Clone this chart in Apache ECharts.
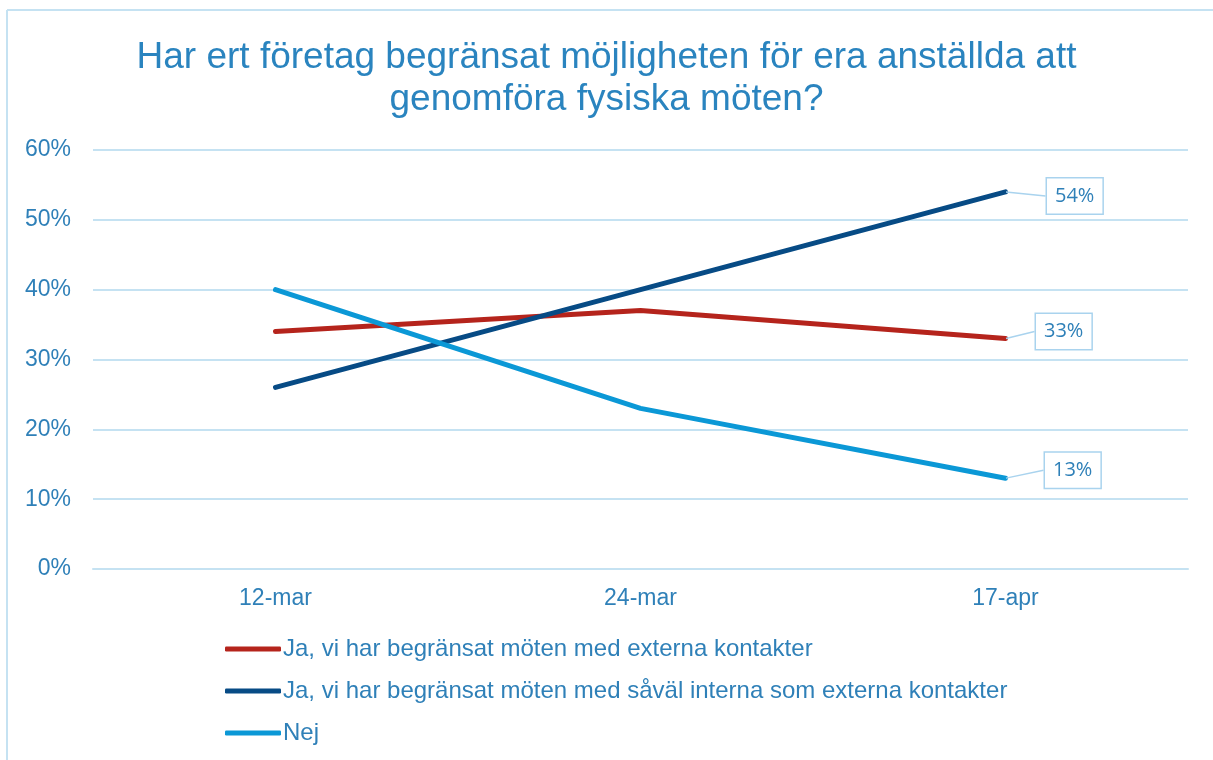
<!DOCTYPE html>
<html><head><meta charset="utf-8">
<script src="https://cdn.jsdelivr.net/npm/echarts@6/dist/echarts.min.js"></script>
<style>html,body{margin:0;padding:0;background:#fff}#c{width:1213px;height:760px}</style>
</head><body><div id="c"></div>
<script>
const categories = ['12-mar', '24-mar', '17-apr'];
const seriesNames = [
  'Ja, vi har begränsat möten med externa kontakter',
  'Ja, vi har begränsat möten med såväl interna som externa kontakter',
  'Nej'
];
const externa = [34, 37, 33];
const bada = [26, 40, 54];
const nej = [40, 23, 13];
const yTicks = [0, 10, 20, 30, 40, 50, 60];
const colors = ['#B5241C', '#074B85', '#0B98D6'];
const textColor = '#2F80B8';

const chart = echarts.init(document.getElementById('c'));
function mk(name, values, color, dx, dy) {
  const last = values.length - 1;
  const data = values.map((v, i) => i === last ? { value: v, label: { show: true }, labelLine: { show: true } } : v);
  return {
    name, type: 'line', data, symbol: 'circle', symbolSize: 1, showSymbol: true,
    lineStyle: { color, width: 5, cap: 'round', join: 'round' },
    itemStyle: { color },
    label: {
      show: false,
      formatter: p => p.value + '%',
      position: 'right', distance: 0,
      fontFamily: 'Open Sans', fontSize: 20, color: textColor,
      backgroundColor: '#fff', borderColor: '#A9D3EE', borderWidth: 1.5,
      padding: [8, 8, 7, 8]
    },
    labelLayout: p => p.dataIndex === last ? { dx, dy } : {},
    labelLine: { show: false, lineStyle: { color: '#A9D3EE', width: 1.5 } },
    emphasis: { disabled: true }
  };
}
chart.setOption({
  animation: false,
  title: {
    text: 'Har ert företag begränsat möjligheten för era anställda att\ngenomföra fysiska möten?',
    left: 'center', top: 32,
    textStyle: { fontFamily: 'Liberation Sans', fontSize: 37, fontWeight: 'normal', color: '#2A84BF', lineHeight: 42 }
  },
  grid: { left: 93, right: 25, top: 150, bottom: 191, containLabel: false },
  xAxis: {
    type: 'category', data: categories, boundaryGap: true,
    axisLine: { lineStyle: { color: '#C5E2F2', width: 2 } },
    axisTick: { show: false },
    axisLabel: { fontFamily: 'Liberation Sans', fontSize: 23, color: textColor, margin: 18 }
  },
  yAxis: {
    type: 'value', min: 0, max: 60, interval: 10,
    axisLine: { show: false }, axisTick: { show: false },
    axisLabel: { fontFamily: 'Liberation Sans', fontSize: 23, color: textColor, formatter: v => yTicks.includes(v) ? v + '%' : '', margin: 22 },
    splitLine: { lineStyle: { color: '#C5E2F2', width: 2 } }
  },
  legend: {
    orient: 'vertical', left: 220, top: 632, itemGap: 18,
    itemWidth: 56, itemHeight: 5, icon: 'roundRect',
    textStyle: { fontFamily: 'Liberation Sans', fontSize: 24, color: textColor, padding: [0, 0, 0, -3] },
    data: seriesNames
  },
  graphic: [
    { type: 'line', shape: { x1: 7, y1: 10, x2: 1213, y2: 10 }, style: { stroke: '#C5E2F2', lineWidth: 2 } },
    { type: 'line', shape: { x1: 7, y1: 10, x2: 7, y2: 760 }, style: { stroke: '#C5E2F2', lineWidth: 2 } }
  ],
  series: [
    mk(seriesNames[0], externa, colors[0], 30, -7),
    mk(seriesNames[1], bada, colors[1], 41, 4),
    mk(seriesNames[2], nej, colors[2], 39, -8)
  ]
});
</script></body></html>
